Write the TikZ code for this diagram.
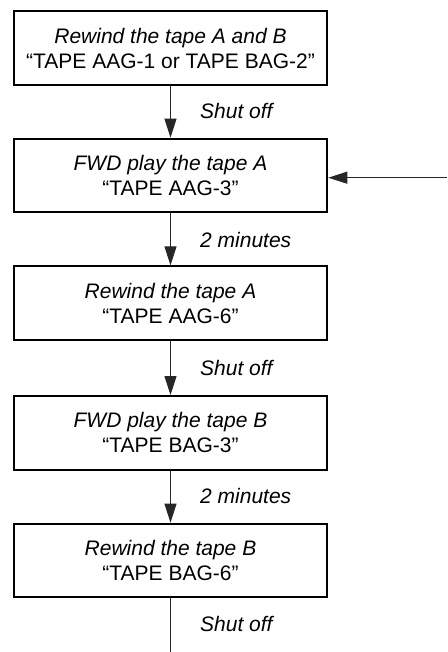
\documentclass[tikz,border=0pt]{standalone}
\usepackage{fontspec}
\setmainfont{Liberation Sans}
\usetikzlibrary{arrows.meta}
\begin{document}
\begin{tikzpicture}[x=1pt,y=-1pt,
  stepbox/.style={draw=black,line width=2pt,minimum width=313.6pt,minimum height=73.7pt,
    inner sep=0pt,align=center,font=\fontsize{21}{25}\selectfont},
  flow/.style={draw=black!85,line width=1pt,-{Triangle[length=19pt,width=12pt]}},
  lbl/.style={anchor=base west,inner sep=0pt,font=\fontsize{21}{25}\selectfont\itshape}]
\useasboundingbox (0,0) rectangle (447,652);
\node[stepbox] (b1) at (170.5,48.2) {\textit{Rewind the tape A and B}\\“TAPE AAG-1 or TAPE BAG-2”};
\node[stepbox] (b2) at (170.5,175.5) {\textit{FWD play the tape A}\\“TAPE AAG-3”};
\node[stepbox] (b3) at (170.5,303.2) {\textit{Rewind the tape A}\\“TAPE AAG-6”};
\node[stepbox] (b4) at (170.5,432.9) {\textit{FWD play the tape B}\\“TAPE BAG-3”};
\node[stepbox] (b5) at (170.5,560.5) {\textit{Rewind the tape B}\\“TAPE BAG-6”};
\coordinate (fb) at (447,177.7);
\coordinate (end) at (170.5,652);
\draw[flow] (b1) -- (b2);
\draw[flow] (b2) -- (b3);
\draw[flow] (b3) -- (b4);
\draw[flow] (b4) -- (b5);
\draw[flow] (fb) -- (fb -| b2.east);
\draw[draw=black!85,line width=1pt] (b5) -- (end);
\node[lbl] (l1) at (200,119) {Shut off};
\node[lbl] (l2) at (200,247) {2 minutes};
\node[lbl] (l3) at (200,375) {Shut off};
\node[lbl] (l4) at (200,503) {2 minutes};
\node[lbl] (l5) at (200,631.7) {Shut off};
\end{tikzpicture}
\end{document}
